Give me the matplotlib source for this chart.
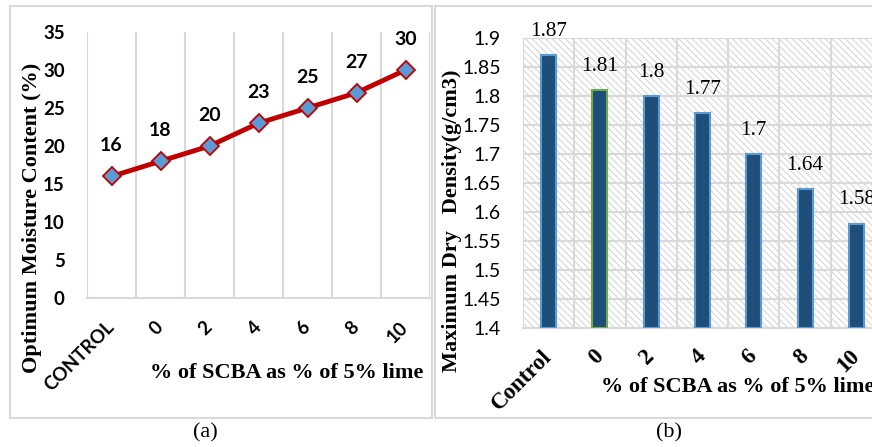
import matplotlib.pyplot as plt
from matplotlib.patches import Rectangle

# data for both panels
labels_a = ['CONTROL', '0', '2', '4', '6', '8', '10']
moisture = [16, 18, 20, 23, 25, 27, 30]

labels_b = ['Control', '0', '2', '4', '6', '8', '10']
density = [1.87, 1.81, 1.80, 1.77, 1.70, 1.64, 1.58]

SANS = 'Lato'
SERIF = 'Liberation Serif'
GRID = '#D9D9D9'

plt.rcParams['hatch.linewidth'] = 0.7

W, H = 872, 447
fig = plt.figure(figsize=(W / 100, H / 100), dpi=100)

# light frames around each panel
fig.patches.append(Rectangle((10 / W, 1 - 418 / H), 422 / W, 412 / H,
                             transform=fig.transFigure, fill=False,
                             edgecolor=GRID, lw=1.5))
fig.patches.append(Rectangle((435 / W, 1 - 418 / H), 480 / W, 412 / H,
                             transform=fig.transFigure, fill=False,
                             edgecolor=GRID, lw=1.5))

# ---- (a) optimum moisture content ----
ax1 = fig.add_axes([87 / W, 1 - 298 / H, 343 / W, 266 / H])
x = range(len(moisture))
ax1.plot(x, moisture, color='#C00000', lw=3.5, marker='D', markersize=9,
         markerfacecolor='#5B9BD5', markeredgecolor='#C00000',
         markeredgewidth=1.3, zorder=3)
for i, v in enumerate(moisture):
    ax1.annotate(str(v), (i, v), xytext=(0, 22), textcoords='offset points',
                 ha='center', va='center', fontsize=14, fontweight='bold',
                 family=SANS)
ax1.set_xlim(-0.5, len(moisture) - 0.5)
ax1.set_ylim(0, 35)
ax1.set_yticks(range(0, 36, 5))
for b in [i - 0.5 for i in range(len(moisture) + 1)]:
    ax1.axvline(b, color=GRID, lw=1.5, zorder=0)
for s in ['top', 'right', 'left']:
    ax1.spines[s].set_visible(False)
ax1.spines['bottom'].set_color(GRID)
ax1.spines['bottom'].set_linewidth(1.5)
ax1.set_xticks(list(x))
ax1.set_xticklabels(labels_a, rotation=45, ha='right', va='center',
                    rotation_mode='anchor', fontsize=13.5, fontweight='bold',
                    family=SANS)
ax1.tick_params(axis='x', length=0, pad=19)
ax1.tick_params(axis='y', length=0, pad=16)
for t in ax1.get_yticklabels():
    t.set_fontsize(13.5)
    t.set_fontweight('bold')
    t.set_family(SANS)

fig.text(32 / W, 1 - 218 / H, 'Optimum Moisture Content (%)', rotation=90,
         ha='center', va='center', fontsize=16, fontweight='bold', family=SERIF)
fig.text(287 / W, 1 - 373 / H, '% of SCBA as % of 5% lime', ha='center',
         va='center', fontsize=16, fontweight='bold', family=SERIF)
fig.text(205 / W, 1 - 433 / H, '(a)', ha='center', va='center', fontsize=16,
         family=SERIF)

# ---- (b) maximum dry density ----
ax2 = fig.add_axes([523 / W, 1 - 328 / H, 359 / W, 290 / H])
ax2.add_patch(Rectangle((0, 0), 1, 1, transform=ax2.transAxes, fill=False,
                        hatch='\\\\\\\\\\', edgecolor='#D2D2D2', lw=0, zorder=0))
edges = ['#5B9BD5'] * len(density)
edges[1] = '#70AD47'
ax2.bar(range(len(density)), [v - 1.4 for v in density], bottom=1.4,
        width=0.29, color='#1F4E79', edgecolor=edges, linewidth=1.5, zorder=3)
for i, v in enumerate(density):
    ax2.annotate(f'{v:g}', (i, v), xytext=(0, 17), textcoords='offset points',
                 ha='center', va='center', fontsize=15.2, family=SERIF)
ax2.set_xlim(-0.5, len(density) - 0.5)
ax2.set_ylim(1.4, 1.9)
ax2.set_yticks([1.4 + 0.05 * k for k in range(11)])
ax2.set_yticklabels([f'{1.4 + 0.05 * k:.2f}'.rstrip('0').rstrip('.')
                     for k in range(11)], fontsize=14, family=SANS)
ax2.yaxis.grid(True, color=GRID, lw=1.5, zorder=1)
ax2.set_axisbelow(True)
for b in [i - 0.5 for i in range(len(density) + 1)]:
    ax2.axvline(b, color=GRID, lw=1.5, zorder=1)
for s in ['top', 'right', 'left']:
    ax2.spines[s].set_visible(False)
ax2.spines['bottom'].set_color(GRID)
ax2.spines['bottom'].set_linewidth(1.5)
ax2.set_xticks(range(len(density)))
ax2.set_xticklabels(labels_b, rotation=45, ha='right', va='center',
                    rotation_mode='anchor', fontsize=16.5, fontweight='bold',
                    family=SERIF)
ax2.tick_params(axis='x', length=0, pad=18)
ax2.tick_params(axis='y', length=0, pad=16)

fig.text(452 / W, 1 - 221 / H, 'Maximum Dry   Density(g/cm3)', rotation=90,
         ha='center', va='center', fontsize=16, fontweight='bold', family=SERIF)
fig.text(601 / W, 1 - 387 / H, '% of SCBA as % of 5% lime', ha='left',
         va='center', fontsize=16, fontweight='bold', family=SERIF)
fig.text(669 / W, 1 - 433 / H, '(b)', ha='center', va='center', fontsize=16,
         family=SERIF)

fig.savefig('out.png', dpi=100)
